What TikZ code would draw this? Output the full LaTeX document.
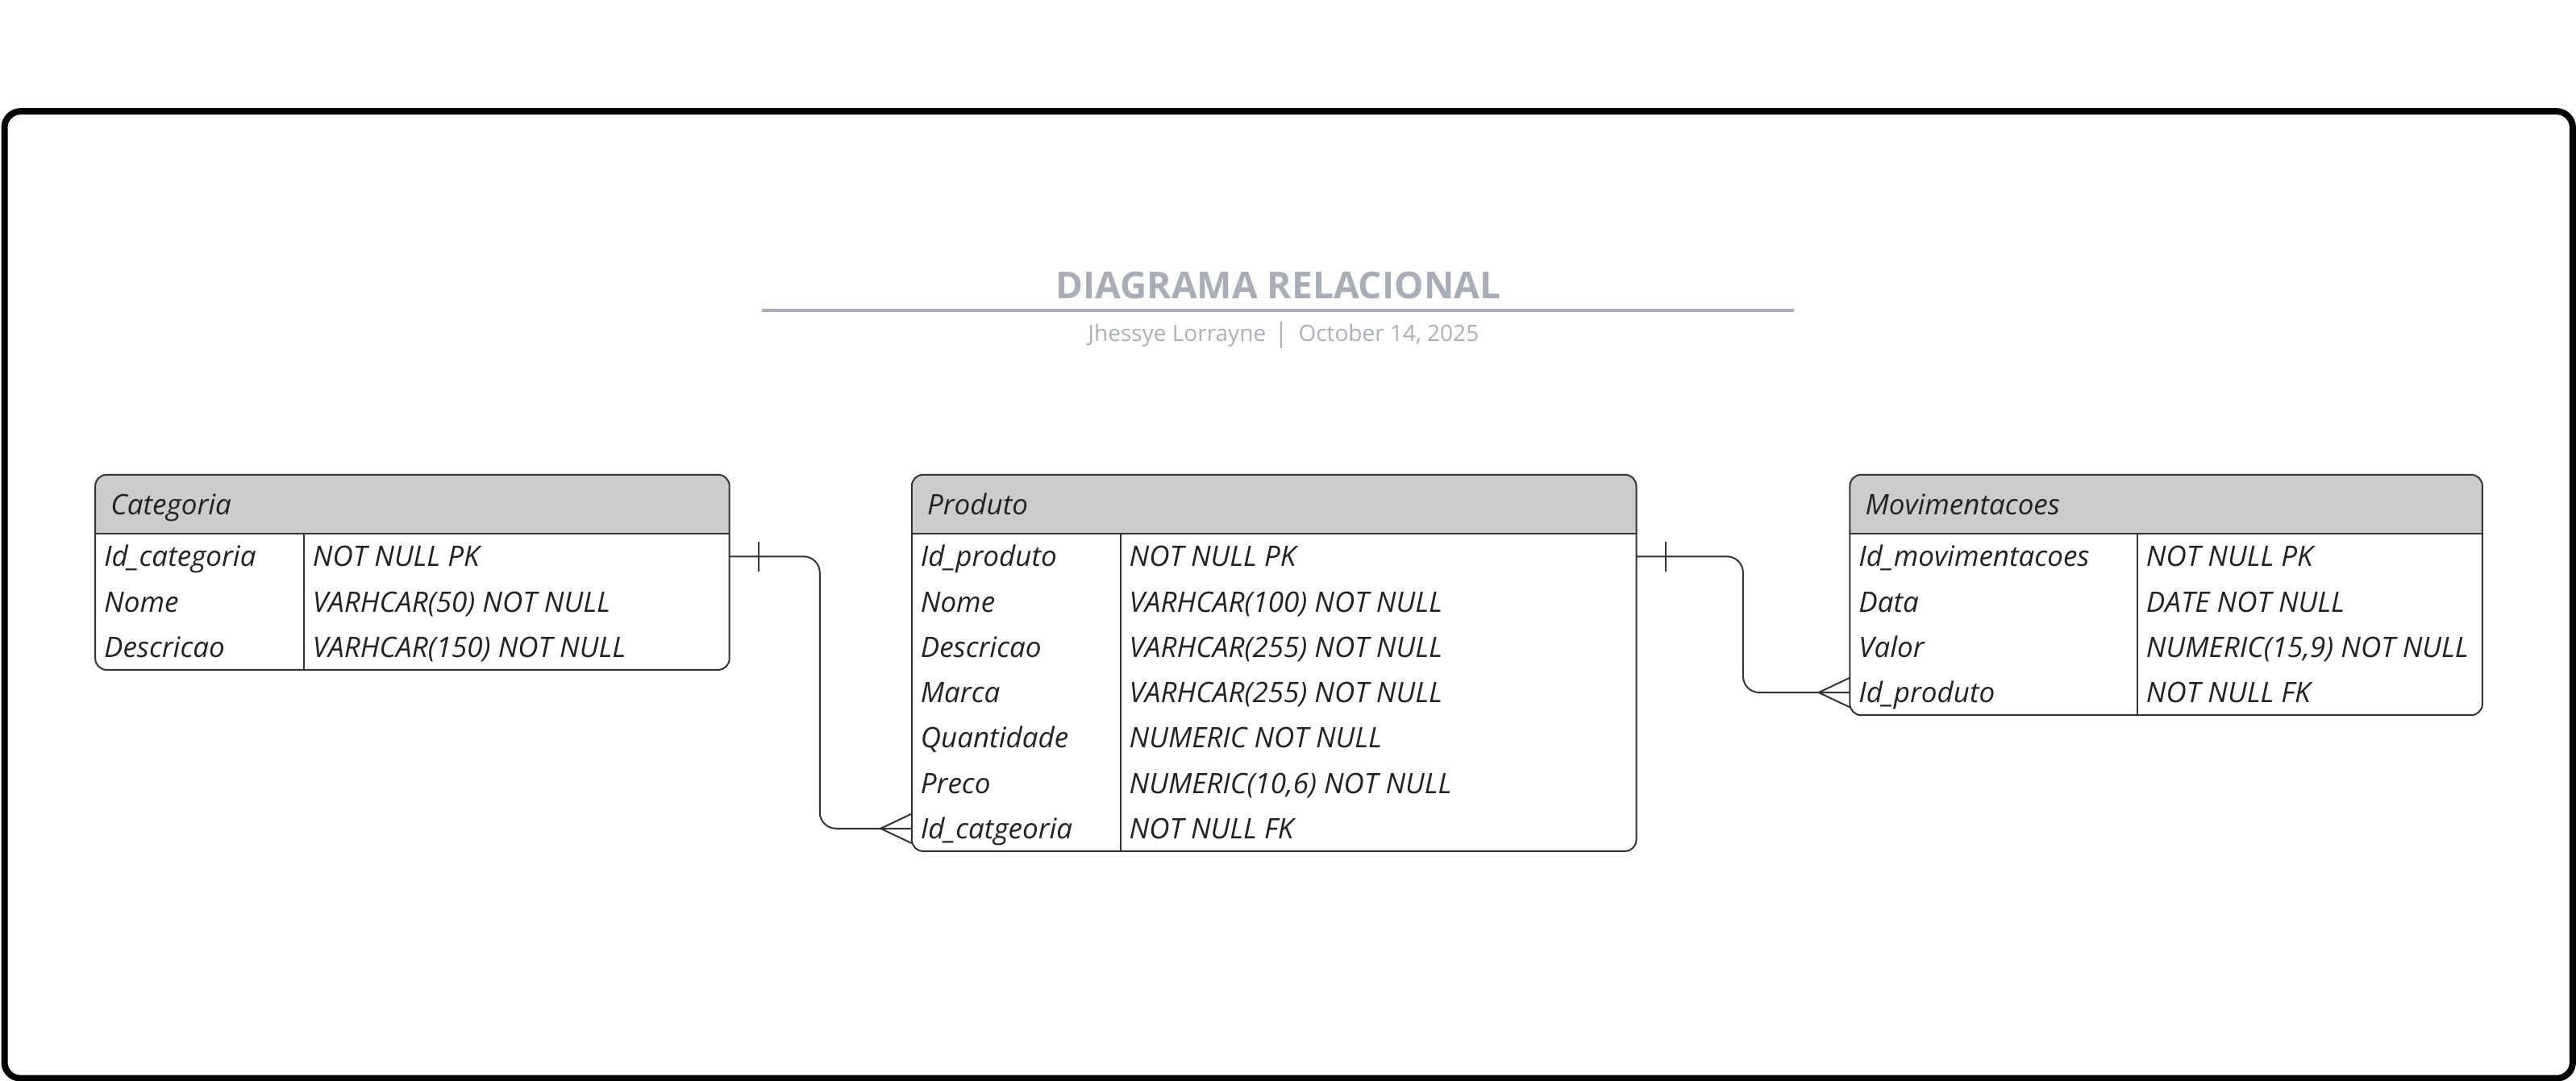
\documentclass[tikz,border=0pt]{standalone}
\usepackage{fontspec}
\setmainfont{Open Sans}
\definecolor{titlegray}{HTML}{A8ADB8}
\definecolor{subgray}{HTML}{AAAFB8}
\definecolor{headgray}{HTML}{CCCCCC}
\definecolor{linegray}{HTML}{333333}
\definecolor{fieldink}{HTML}{222222}

\tikzset{
  tblborder/.style={draw=linegray, line width=0.5pt},
  fieldtext/.style={anchor=base west, inner sep=0pt, text=fieldink, font=\fontsize{8.75}{10}\selectfont\itshape},
  headtext/.style={fieldtext},
  link/.style={draw=linegray, line width=0.5pt, rounded corners=5pt},
  onebar/.pic={\draw[linegray, line width=0.5pt] (18,-9) -- (18,9);},
  crowfoot/.pic={\draw[linegray, line width=0.5pt] (0,-9) -- (-19,0) -- (0,9);}
}

% #1 name, #2 left, #3 right, #4 column, #5 rows, #6 title, #7 fields
\newcommand\dbtable[7]{%
  \pgfmathsetmacro\tblbottom{325+27.6*#5}
  \fill[white, rounded corners=3.5pt] (#2,289) rectangle (#3,\tblbottom);
  \begin{scope}
    \clip (#2,289) rectangle (#3,325);
    \fill[headgray, rounded corners=3.5pt] (#2,289) rectangle (#3,\tblbottom);
  \end{scope}
  \draw[tblborder, rounded corners=3.5pt] (#2,289) rectangle (#3,\tblbottom);
  \draw[tblborder] (#2,325) -- (#3,325) (#4,325) -- (#4,\tblbottom);
  \node[headtext] (#1) at (#2+9,313.2) {#6};
  \foreach \fld/\typ [count=\i] in {#7} {
    \pgfmathsetmacro\rowy{325+27.6*(\i-0.5)}
    \node[fieldtext] (#1-\i) at (#2+5,\rowy+6.2) {\fld};
    \node[fieldtext] (#1-t\i) at (#4+5,\rowy+6.2) {\typ};
    \coordinate (#1-w\i) at (#2,\rowy);
    \coordinate (#1-e\i) at (#3,\rowy);
  }
}

\begin{document}
\begin{tikzpicture}[x=0.5094pt, y=-0.5094pt]
\useasboundingbox (0,0) rectangle (1568,658);
\draw[black, line width=2pt, rounded corners=5pt] (2.7,67.8) rectangle (1566,656.5);

% title block
\node[anchor=base, inner sep=0pt, text=titlegray, font=\fontsize{11.5}{13}\selectfont\bfseries]
  (title) at (778,182) {DIAGRAMA RELACIONAL};
\draw[titlegray, line width=1pt] (464,189) -- (1092,189);
\node[anchor=base east, inner sep=0pt, text=subgray, font=\fontsize{7}{8}\selectfont]
  (author) at (771,207.6) {Jhessye Lorrayne};
\node[anchor=base west, inner sep=0pt, text=subgray, font=\fontsize{7}{8}\selectfont]
  (date) at (790,207.6) {October 14, 2025};
\draw[subgray, line width=0.5pt] (780,196) -- (780,212);

% tables
\dbtable{cat}{58}{444}{185}{3}{Categoria}{
  {Id\_categoria/NOT NULL PK},
  {Nome/VARHCAR(50) NOT NULL},
  {Descricao/VARHCAR(150) NOT NULL}}
\dbtable{prod}{555}{996}{682}{7}{Produto}{
  {Id\_produto/NOT NULL PK},
  {Nome/VARHCAR(100) NOT NULL},
  {Descricao/VARHCAR(255) NOT NULL},
  {Marca/VARHCAR(255) NOT NULL},
  {Quantidade/NUMERIC NOT NULL},
  {Preco/{NUMERIC(10,6) NOT NULL}},
  {Id\_catgeoria/NOT NULL FK}}
\dbtable{mov}{1126}{1511}{1301}{4}{Movimentacoes}{
  {Id\_movimentacoes/NOT NULL PK},
  {Data/DATE NOT NULL},
  {Valor/{NUMERIC(15,9) NOT NULL}},
  {Id\_produto/NOT NULL FK}}

% relations
\draw[link] (cat-e1) -- ++(55,0) |- (prod-w7);
\pic at (cat-e1) {onebar};
\pic at (prod-w7) {crowfoot};
\draw[link] (prod-e1) -- ++(65,0) |- (mov-w4);
\pic at (prod-e1) {onebar};
\pic at (mov-w4) {crowfoot};
\end{tikzpicture}
\end{document}
